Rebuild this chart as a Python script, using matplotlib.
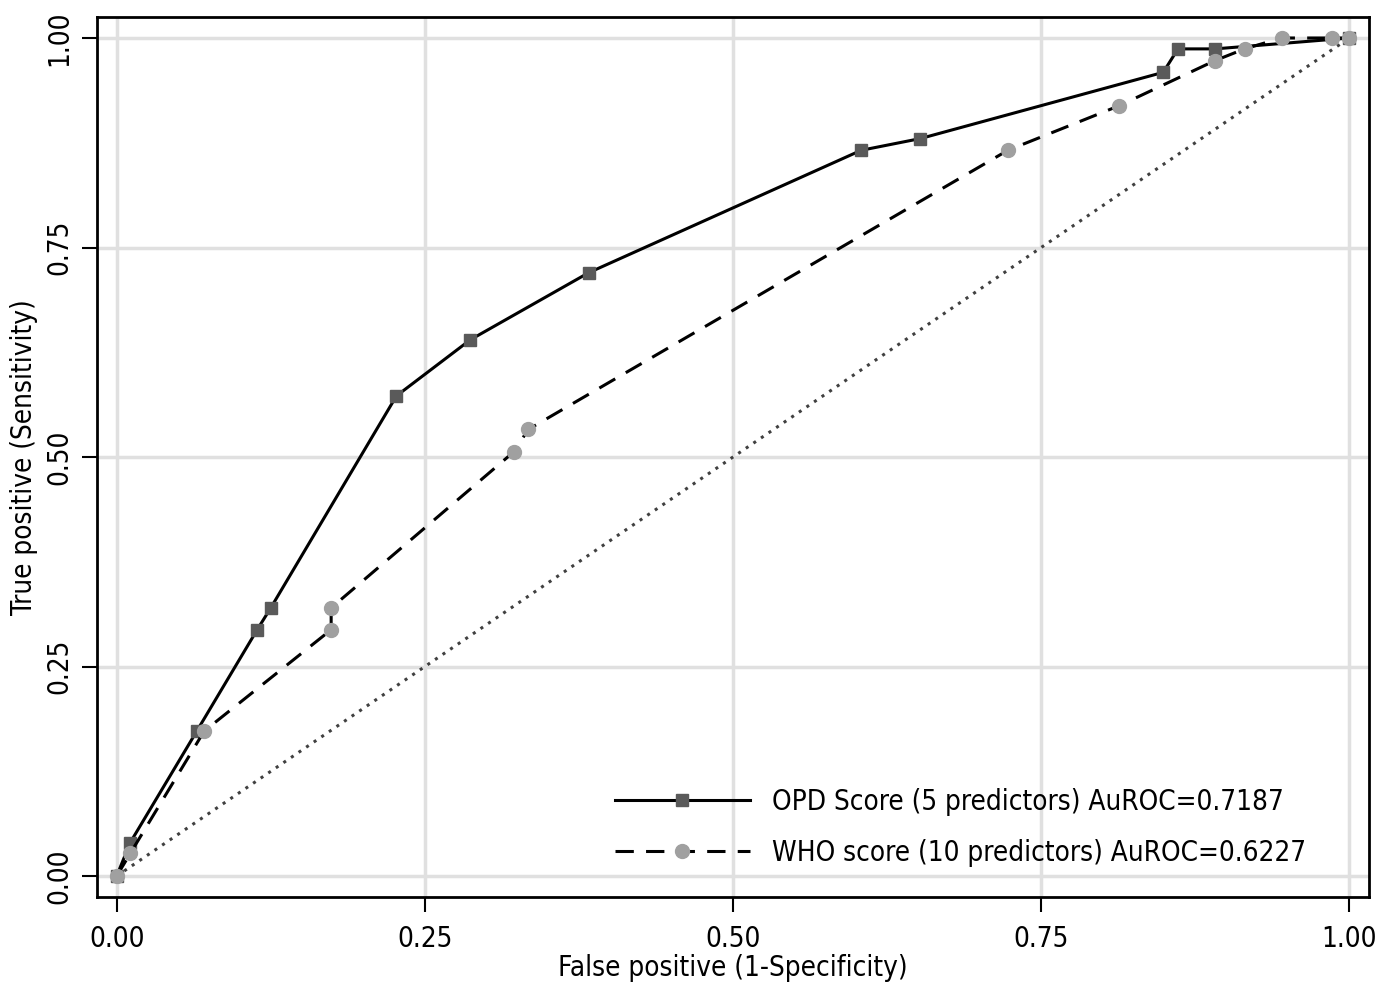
import numpy as np
import matplotlib
matplotlib.use("Agg")
import matplotlib.pyplot as plt

# ROC points
opd_fpr = [0.0, 0.011, 0.065, 0.114, 0.125, 0.227, 0.287, 0.383, 0.604, 0.652, 0.849, 0.861, 0.891, 1.0]
opd_tpr = [0.0, 0.040, 0.173, 0.294, 0.320, 0.573, 0.640, 0.720, 0.866, 0.880, 0.959, 0.987, 0.987, 1.0]

who_fpr = [0.0, 0.011, 0.071, 0.174, 0.174, 0.322, 0.334, 0.723, 0.813, 0.891, 0.915, 0.945, 0.986, 1.0]
who_tpr = [0.0, 0.027, 0.173, 0.294, 0.320, 0.506, 0.533, 0.866, 0.919, 0.973, 0.987, 1.0, 1.0, 1.0]

ticks = [0.0, 0.25, 0.5, 0.75, 1.0]
tick_labels = ["0.00", "0.25", "0.50", "0.75", "1.00"]

opd_label = "OPD Score (5 predictors) AuROC=0.7187"
who_label = "WHO score (10 predictors) AuROC=0.6227"

plt.rcParams["font.family"] = ["DejaVu Sans"]
plt.rcParams["font.stretch"] = "condensed"

fig = plt.figure(figsize=(13.93, 9.85), dpi=100)
ax = fig.add_axes([0.0696, 0.0893, 0.9132, 0.8934])

ax.plot(opd_fpr, opd_tpr, color="black", lw=2.2, marker="s", ms=9,
        mfc="#5a5a5a", mec="#5a5a5a", label=opd_label, zorder=3)
ax.plot(who_fpr, who_tpr, color="black", lw=2.2, ls=(0, (6, 4)), marker="o", ms=10,
        mfc="#a0a0a0", mec="#a0a0a0", label=who_label, zorder=3)
ax.plot([0, 1], [0, 1], color="#404040", lw=2.2, ls=(0, (1, 2)), zorder=2)

ax.set_xlim(-0.016, 1.016)
ax.set_ylim(-0.025, 1.025)
ax.set_xticks(ticks)
ax.set_xticklabels(tick_labels)
ax.set_yticks(ticks)
ax.set_yticklabels(tick_labels, rotation=90, va="center")
ax.tick_params(labelsize=20, width=1.5, length=11, direction="out")
ax.tick_params(axis="x", pad=9)
ax.tick_params(axis="y", pad=6)

ax.grid(True, color="#e0e0e0", lw=2.5)
ax.set_axisbelow(True)
for s in ax.spines.values():
    s.set_linewidth(2)

ax.set_xlabel("False positive (1-Specificity)", fontsize=20, labelpad=1)
ax.set_ylabel("True positive (Sensitivity)", fontsize=20, labelpad=5)

leg = ax.legend(loc="lower right", bbox_to_anchor=(0.97, 0.006), frameon=False,
                fontsize=20, handlelength=4.85, labelspacing=0.83, handletextpad=0.8)

fig.savefig("out.png", dpi=100, facecolor="white")
